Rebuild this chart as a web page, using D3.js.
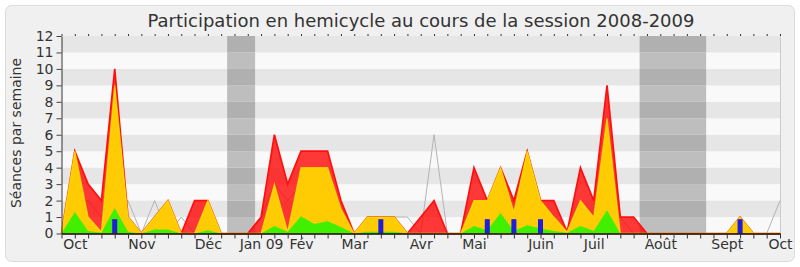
<!DOCTYPE html>
<html><head><meta charset="utf-8">
<script src="https://cdn.jsdelivr.net/npm/d3@7/dist/d3.min.js"></script>
<style>
body{margin:0;background:#fff}
svg{display:block;font-family:"DejaVu Sans",sans-serif}
</style>
</head><body>
<svg id="chart" width="800" height="267"></svg>
<script>
// ---- data (one value per week, 55 weeks) ----
const presences = [0,5,3,2,10,1,0,1,2,0, 2,2,0,0,0,1,6,3,5,5, 5,2,0,1,1,1,0,1,2,0, 0,4,2,4,2,5,2,2,0.1,4, 2,9,1,1,0,0,0,0,0,0, 0,1,0,0,0];
const participations = [0,5,1,0.1,9,1,0,1,2,0, 0,2,0,0,0,0,3,0.1,4,4, 4,1.5,0,1,1,1,0,0,0,0, 0,2,2,4,1.3,5,2,1,0.1,2, 1,7,0,0,0,0,0,0,0,0, 0,1,0,0,0];
const interventions = [0,1.3,0.15,0.05,1.55,0.1,0,0.25,0.25,0, 0,0.2,0,0,0,0,0.45,0.1,1.05,0.57, 0.75,0.4,0,0.1,0.1,0.1,0,0,0,0, 0,0.45,0.2,1.25,0.15,0.5,0.3,0.15,0.05,0.45, 0.15,1.42,0,0,0,0,0,0,0,0, 0,0.05,0,0,0];
const questions = [0,0,0,0,0.87,0,0,0,0,0, 0,0,0,0,0,0,0,0,0,0, 0,0,0,0,0.87,0,0,0,0,0, 0,0,0.87,0,0.87,0,0.87,0,0,0, 0,0,0,0,0,0,0,0,0,0, 0,0.87,0,0,0];
const mediane = [0,2,2,1,2,2,0,2,0,1, 0,1,0,0,0,1,3,2,3,2, 2,1,0,1,1,1,1,0,6,0, 0,2,2,2,2,3,2,1,0,2, 1,3,1,0,0,0,0,0,0,0, 0,0,0,0,2];
const monthWeeks = [1,6,11,15,18,22,27,31,36,40,45,50,54];
const monthLabels = ["Oct","Nov","Déc","Jan 09","Fév","Mar","Avr","Mai","Juin","Juil","Août","Sept","Oct"];
const vacations = [[12.45,14.55],[43.45,48.45]];
const yTicks = d3.range(0,13);
const chartTitle = "Participation en hemicycle au cours de la session 2008-2009";
const yTitle = "Séances par semaine";

// ---- layout ----
const svg = d3.select("#chart");
const mLeft = 61.5, mRight = 780, mTop = 36, mBottom = 233.5;
const x = d3.scaleLinear().domain([0,54]).range([mLeft,mRight]);
const y = d3.scaleLinear().domain([0,12]).range([mBottom,mTop]);
const weeks = d3.range(presences.length);

svg.append("rect").attr("x",5.5).attr("y",5.5).attr("width",789).attr("height",256)
  .attr("rx",6).attr("fill","#f0f0f0").attr("stroke","#dcdcdc");

svg.append("text").attr("x",421).attr("y",27).attr("text-anchor","middle")
  .attr("font-size",18).attr("fill","#333").text(chartTitle);

// stripes
const bands = d3.range(0,12);
svg.append("g").selectAll("rect").data(bands).join("rect")
  .attr("x",mLeft).attr("width",mRight-mLeft)
  .attr("y",k=>y(k+1)).attr("height",k=>y(k)-y(k+1))
  .attr("fill",k=>k%2? "#e6e6e6":"#f9f9f9");
// vacations
vacations.forEach(v=>{
  svg.append("g").selectAll("rect").data(bands).join("rect")
    .attr("x",x(v[0])).attr("width",x(v[1])-x(v[0]))
    .attr("y",k=>y(k+1)).attr("height",k=>y(k)-y(k+1))
    .attr("fill",k=>k%2? "#b0b0b0":"#bebebe");
});
svg.append("line").attr("x1",mRight+0.5).attr("x2",mRight+0.5).attr("y1",mTop).attr("y2",mBottom)
  .attr("stroke","#cccccc");

// median line
svg.append("path").datum(mediane)
  .attr("d",d3.line().x((d,i)=>x(i)).y(d=>y(d)))
  .attr("fill","none").attr("stroke","#b4b4b4").attr("stroke-width",1);

const area = d3.area().x((d,i)=>x(i)).y0(y(0)).y1(d=>y(d));
const line = d3.line().x((d,i)=>x(i)).y(d=>y(d));

svg.append("path").datum(presences).attr("d",area)
  .attr("fill","rgb(255,0,0)").attr("fill-opacity",0.78);
svg.append("path").datum(presences).attr("d",line)
  .attr("fill","none").attr("stroke","#ff1010").attr("stroke-width",1.7);

svg.append("path").datum(participations).attr("d",area)
  .attr("fill","rgb(255,212,0)").attr("fill-opacity",0.95);
svg.append("path").datum(participations).attr("d",line)
  .attr("fill","none").attr("stroke","#ffee00").attr("stroke-width",1.3).attr("stroke-opacity",0.7);

svg.append("path").datum(interventions).attr("d",area)
  .attr("fill","rgb(55,240,0)").attr("fill-opacity",0.95);

svg.append("g").selectAll("rect").data(weeks.filter(i=>questions[i]>0)).join("rect")
  .attr("x",i=>x(i)-2.5).attr("width",5)
  .attr("y",i=>y(questions[i])).attr("height",i=>y(0)-y(questions[i]))
  .attr("fill","rgb(30,30,220)");

// axes
const yAxis = svg.append("g").attr("transform",`translate(${mLeft},0)`)
  .call(d3.axisLeft(y).tickValues(yTicks).tickSize(5).tickSizeOuter(0).tickPadding(3));
yAxis.selectAll("text").attr("font-size",14).attr("fill","#333").attr("font-family","DejaVu Sans");
yAxis.selectAll("line").attr("stroke","#444");
yAxis.select(".domain").attr("stroke","#333");

const xAxis = svg.append("g").attr("transform",`translate(0,${mBottom})`)
  .call(d3.axisBottom(x).tickValues(weeks).tickSize(5).tickSizeOuter(0).tickFormat(""));
xAxis.selectAll("line").attr("stroke","#333");
xAxis.select(".domain").attr("stroke","#1a0000").attr("stroke-width",1.4);

const xLab = svg.append("g").attr("transform",`translate(0,${mBottom})`)
  .call(d3.axisBottom(x).tickValues(monthWeeks).tickSize(0).tickPadding(6)
    .tickFormat((d,i)=>monthLabels[i]));
xLab.select(".domain").remove();
xLab.selectAll("text").attr("font-size",14).attr("fill","#333").attr("font-family","DejaVu Sans");

const topAxis = svg.append("g").attr("transform",`translate(0,${mTop})`)
  .call(d3.axisTop(x).tickValues(weeks).tickSize(2).tickFormat(""));
topAxis.select(".domain").remove();
topAxis.selectAll("line").attr("stroke","#333");

svg.append("text").attr("transform","translate(21,133) rotate(-90)")
  .attr("text-anchor","middle").attr("font-size",14).attr("fill","#333").text(yTitle);
</script>
</body></html>
